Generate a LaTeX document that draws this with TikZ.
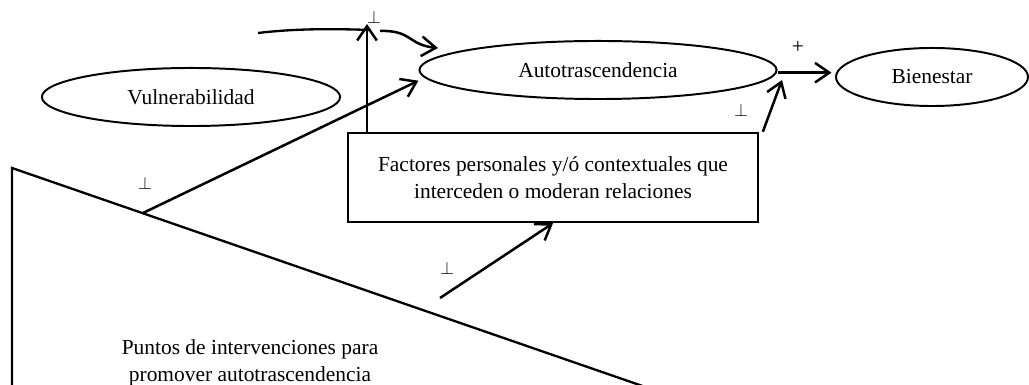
\documentclass[tikz,border=0pt,12pt]{standalone}
\usepackage{fontspec}
\setmainfont{Liberation Serif}
\usetikzlibrary{arrows.meta,shapes.geometric}

\tikzset{
	ovalo/.style={draw, ellipse, line width=1.1pt, inner sep=0pt},
	caja/.style={draw, rectangle, line width=1.4pt, inner sep=0pt, align=center,
		font=\fontsize{12}{15.5}\selectfont},
	flecha/.style={line width=1.4pt, -{Straight Barb[length=8pt,width=11pt]}},
	signo/.style={inner sep=0pt, font=\footnotesize}
}

\begin{document}
\begin{tikzpicture}[x=0.56pt, y=-0.56pt]
	\useasboundingbox (0,0) rectangle (1029,385);
	\clip (0,0) rectangle (1029,385);

	% Elipses
	\node[ovalo, minimum width=167pt, minimum height=32.5pt] (vul) at (191,97) {Vulnerabilidad};
	\node[ovalo, minimum width=200pt, minimum height=32.5pt] (aut) at (598,70) {Autotrascendencia};
	\node[ovalo, minimum width=107.5pt, minimum height=32.5pt] (bien) at (932,77) {Bienestar};

	% Caja de factores
	\node[caja, minimum width=229.6pt, minimum height=49.8pt] (fac) at (553,177.5)
		{Factores personales y/ó contextuales que\\interceden o moderan relaciones};

	% Triangulo de intervenciones
	\coordinate (t1) at (12,168);
	\coordinate (t2) at (12,400);
	\coordinate (t3) at (683,400);
	\draw[line width=1.3pt] (t2) -- (t1) -- (t3);
	\node[align=center, font=\fontsize{12}{15.5}\selectfont] (pun) at (250,363)
		{Puntos de intervenciones para\\promover autotrascendencia};

	% Puntos libres
	\coordinate (c1) at (143,213);
	\coordinate (c2) at (440,298);
	\coordinate (v1) at (258,33);
	\coordinate (g1) at (371,30);
	\coordinate (g2) at (380,31);
	\coordinate (m1) at (367,24);
	\coordinate (a1) at (438,48);
	\coordinate (h1) at (782,80);

	% Flechas
	\draw[line width=1.3pt] (v1) .. controls (300,28) and (340,29) .. (g1);
	\draw[flecha] (g2) .. controls (412,30) and (408,45) .. (a1);
	\draw[flecha] (fac.north -| m1) -- (m1);
	\draw[flecha] (c1) -- ([yshift=-6pt]aut.west);
	\draw[flecha] (c2) -- (fac.south);
	\draw[flecha, shorten >=2pt] ([yshift=-1.5pt]aut.east) -- ([yshift=-1.5pt]aut.east -| bien.west);
	\draw[flecha] ([xshift=2pt]fac.north east) -- (h1);

	% Signos
	\node[signo] (s1) at (374,17) {$\perp$};
	\node[signo] (s2) at (145,183) {$\perp$};
	\node[signo] (s3) at (447,268) {$\perp$};
	\node[signo] (s4) at (741,110) {$\perp$};
	\node[signo, font=\normalsize] (s5) at (798,47) {+};
\end{tikzpicture}
\end{document}
